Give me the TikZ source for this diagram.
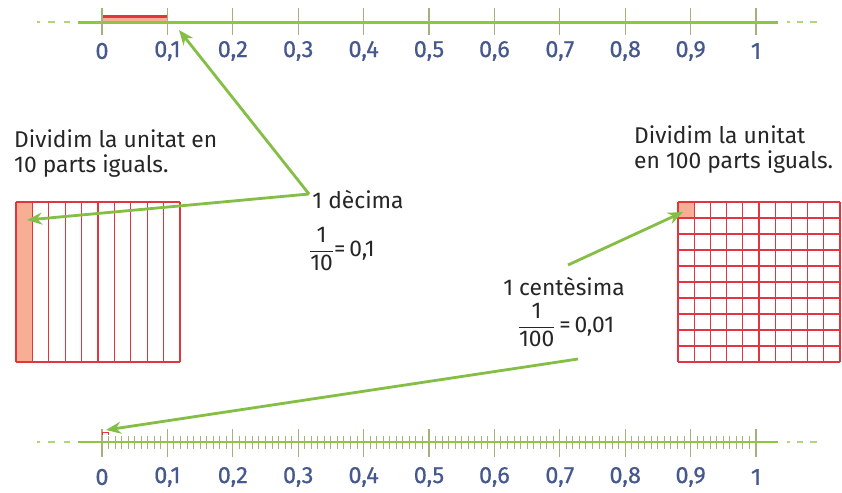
\documentclass[tikz,border=0pt]{standalone}
\usepackage{fontspec}
\setmainfont{Fira Sans}
\newfontfamily\lblfont[FakeBold=0.5]{Fira Sans}
\usetikzlibrary{arrows.meta}
\definecolor{lgreen}{HTML}{8DC63F}
\definecolor{agreen}{HTML}{84BE45}
\definecolor{tickc}{HTML}{A3B27A}
\definecolor{lblue}{HTML}{45598F}
\definecolor{gred}{HTML}{E2363F}
\definecolor{salmon}{HTML}{F7AE95}
\definecolor{txt}{HTML}{262626}
\tikzset{
  axis/.style={lgreen,line width=2.4pt},
  dashbit/.style={lgreen!70,line width=2pt},
  major/.style={tickc,line width=1.3pt},
  minor/.style={tickc,line width=1pt},
  lbl/.style={lblue,font=\lblfont\fontsize{23.5}{25}\selectfont,inner sep=0pt},
  body/.style={txt,font=\fontsize{22.8}{25}\selectfont,inner sep=0pt,align=left},
  gridline/.style={gred,line width=1.2pt},
  arr/.style={agreen,line width=2.8pt,-{Stealth[length=15pt,width=12pt]}},
}
\begin{document}
\begin{tikzpicture}[x=1pt,y=-1pt]
\useasboundingbox (0,0) rectangle (842,492);
\fill[white] (0,0) rectangle (842,492);

% ---------- top number line ----------
\draw[salmon,line width=3pt] (102,19.5) -- (167,19.5);
\draw[gred,line width=2.4pt] (102,16.5) -- (167,16.5);
\draw[axis] (78,22.5) -- (778,22.5);
\foreach \a/\b in {37/40,48/55,64/70} \draw[dashbit] (\a,22.5) -- (\b,22.5);
\foreach \a/\b in {787/790,797/803,810/817} \draw[dashbit] (\a,22.5) -- (\b,22.5);
\foreach \i in {0,...,10} \draw[major] ({102+65.4*\i},8) -- ({102+65.4*\i},35);
\foreach \i/\t in {0/0,1/{0,1},2/{0,2},3/{0,3},4/{0,4},5/{0,5},6/{0,6},7/{0,7},8/{0,8},9/{0,9},10/1}
  \node[lbl] (top\i) at ({102+65.4*\i},51) {\t};

% ---------- bottom number line ----------
\draw[axis] (78,442) -- (778,442);
\foreach \a/\b in {37/40,48/55,64/70} \draw[dashbit] (\a,442) -- (\b,442);
\foreach \a/\b in {787/790,797/803,810/817} \draw[dashbit] (\a,442) -- (\b,442);
\foreach \i in {0,...,100} \draw[minor] ({102+6.54*\i},436) -- ({102+6.54*\i},449);
\foreach \i in {0,...,10} \draw[major] ({102+65.4*\i},429) -- ({102+65.4*\i},457);
\draw[gred,line width=1pt] (102.5,435) -- (102.5,432) -- (108.5,432) -- (108.5,435);
\foreach \i/\t in {0/0,1/{0,1},2/{0,2},3/{0,3},4/{0,4},5/{0,5},6/{0,6},7/{0,7},8/{0,8},9/{0,9},10/1}
  \node[lbl] (bot\i) at ({102+65.4*\i},477) {\t};

% ---------- left grid (10 parts) ----------
\fill[salmon] (16,202) rectangle (32.4,362);
\foreach \i in {0,...,10} \draw[gridline] ({16+16.4*\i},202) -- ({16+16.4*\i},362);
\draw[gridline] (16,202) -- (180,202);
\draw[gridline] (16,362) -- (180,362);
\coordinate (tenth) at (27,220);

% ---------- right grid (100 parts) ----------
\fill[salmon] (678,202) rectangle (694.2,218);
\foreach \i in {0,...,10} {
  \draw[gridline] ({678+16.2*\i},202) -- ({678+16.2*\i},362);
  \draw[gridline] (678,{202+16*\i}) -- (840,{202+16*\i});
}
\coordinate (hundredth) at (683,212);

% ---------- texts ----------
\node[body,anchor=base west] (ltxt1) at (14,147) {Dividim la unitat en};
\node[body,anchor=base west] (ltxt2) at (14,172) {10 parts iguals.};
\node[body,anchor=base west] (rtxt1) at (634,143) {Dividim la unitat};
\node[body,anchor=base west] (rtxt2) at (634,168) {en 100 parts iguals.};

\node[body] (dec) at (358,200) {1 dècima};
\node[body] (decfrac) at (342,249) {$\displaystyle\frac{\mbox{1}}{\mbox{10}}$\mbox{=\,0,1}};
\node[body,anchor=base] (cen) at (564,295) {1 centèsima};
\node[body] (cenfrac) at (566,325) {$\displaystyle\frac{\mbox{1}}{\mbox{100}}$\mbox{\,=\,0,01}};

% ---------- arrows ----------
\coordinate (apex) at (309,194);
\coordinate (topTip) at (179,30);
\draw[arr] (apex) -- (topTip);
\draw[arr] (apex) -- (tenth);
\coordinate (cstart) at (568,265);
\draw[arr] (cstart) -- (hundredth);
\coordinate (bstart) at (578,359);
\coordinate (botTip) at (106,430);
\draw[arr] (bstart) -- (botTip);
\end{tikzpicture}
\end{document}
